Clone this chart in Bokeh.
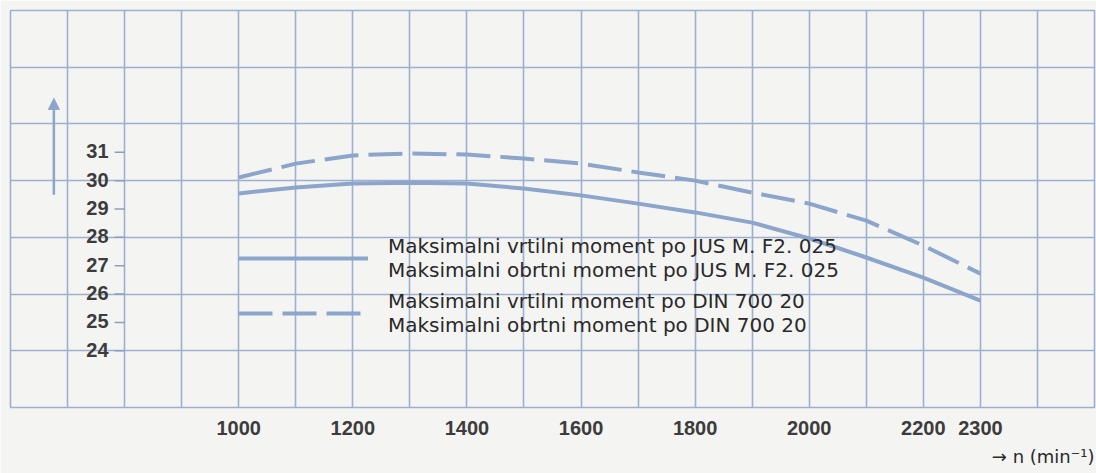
import numpy as np
from bokeh.plotting import figure
from bokeh.models import Range1d, FixedTicker, Legend, LegendItem, Title, Arrow, NormalHead
from bokeh.core.properties import value
from bokeh.embed import file_html
from bokeh.resources import INLINE

# ---- data ----
rpm = [1000, 1100, 1200, 1300, 1400, 1500, 1600, 1700, 1800, 1900, 2000, 2100, 2200, 2300]
jus_moment = [29.55, 29.76, 29.90, 29.93, 29.90, 29.72, 29.48, 29.19, 28.88, 28.52, 27.96, 27.29, 26.58, 25.77]
din_moment = [30.11, 30.60, 30.89, 30.96, 30.92, 30.78, 30.60, 30.29, 30.00, 29.58, 29.19, 28.59, 27.71, 26.72]

x_tick_values = [1000, 1200, 1400, 1600, 1800, 2000, 2200, 2300]
x_tick_labels = ["1000", "1200", "1400", "1600", "1800", "2000", "2200", "2300"]
y_tick_values = [24, 25, 26, 27, 28, 29, 30, 31]
y_tick_labels = ["24", "25", "26", "27", "28", "29", "30", "31"]

legend_jus = ["Maksimalni vrtilni moment po JUS M. F2. 025",
              "Maksimalni obrtni moment po JUS M. F2. 025"]
legend_din = ["Maksimalni vrtilni moment po DIN 700 20",
              "Maksimalni obrtni moment po DIN 700 20"]
x_axis_title = "→ n (min⁻¹)"

X_MIN, X_MAX, X_GRID_STEP = 600, 2500, 100
Y_MIN, Y_MAX, Y_GRID_STEP = 22, 36, 2
Y_AXIS_AT = 800
ARROW_X, ARROW_Y0, ARROW_Y1 = 676, 29.5, 32.9

# ---- style ----
BG = "#f4f4f2"
GRID = "#9db0cf"
CURVE = "#8ba5cb"
TEXT = "#2a2a2a"
LABEL_TEXT = "#3c3c3c"
FONT = "Liberation Sans"

p = figure(width=1096, height=473, output_backend="svg", toolbar_location=None,
           x_range=Range1d(X_MIN, X_MAX), y_range=Range1d(Y_MIN, Y_MAX),
           y_axis_location=None,
           min_border_left=10, min_border_right=2, min_border_top=10, min_border_bottom=66)

p.background_fill_color = BG
p.border_fill_color = BG
p.outline_line_color = GRID
p.outline_line_width = 1.6

p.xgrid.ticker = FixedTicker(ticks=list(range(X_MIN, X_MAX + 1, X_GRID_STEP)))
p.ygrid.ticker = FixedTicker(ticks=list(range(Y_MIN, Y_MAX + 1, Y_GRID_STEP)))
for g in (p.xgrid, p.ygrid):
    g.grid_line_color = GRID
    g.grid_line_width = 1.6
    g.grid_line_alpha = 1.0

ax = p.xaxis[0]
ax.ticker = FixedTicker(ticks=x_tick_values)
ax.major_label_overrides = {v: s for v, s in zip(x_tick_values, x_tick_labels)}
ax.axis_line_color = None
ax.major_tick_line_color = None
ax.minor_tick_line_color = None
ax.major_label_standoff = 7
ax.major_label_text_font = FONT
ax.major_label_text_font_size = "20px"
ax.major_label_text_font_style = "bold"
ax.major_label_text_color = LABEL_TEXT

# curves
r_jus = p.line(rpm, jus_moment, line_width=4, line_color=CURVE)
r_din = p.line(rpm, din_moment, line_width=4, line_color=CURVE, line_dash="34 10")

# inner y axis: ticks + labels
p.ray(x=[Y_AXIS_AT] * len(y_tick_values), y=y_tick_values, length=10, length_units="screen",
      angle=np.pi, line_color="#8e9fbb", line_width=1.5)
p.text(x=[Y_AXIS_AT] * len(y_tick_values), y=y_tick_values, text=y_tick_labels,
       x_offset=-16, y_offset=-1, text_align="right", text_baseline="middle",
       text_font=value(FONT), text_font_size="20px", text_font_style="bold",
       text_color=LABEL_TEXT)

# vertical arrow
p.add_layout(Arrow(x_start=ARROW_X, y_start=ARROW_Y0, x_end=ARROW_X, y_end=ARROW_Y1,
                   line_color=CURVE, line_width=2.5,
                   end=NormalHead(size=11, fill_color=CURVE, line_color=CURVE)))

# legend
legend = Legend(items=[LegendItem(label=value("\n".join(legend_jus)), renderers=[r_jus]),
                       LegendItem(label=value("\n".join(legend_din)), renderers=[r_din])],
                location=(228, 70), padding=0, margin=0, spacing=7,
                glyph_width=130, glyph_height=44, label_standoff=20,
                border_line_color=None, background_fill_alpha=0,
                label_text_font="DejaVu Sans", label_text_font_size="20px",
                label_text_line_height=1.1, label_text_color=TEXT)
p.add_layout(legend)

# x axis title (bottom right)
p.add_layout(Title(text=x_axis_title, align="right", text_font="DejaVu Sans",
                   text_font_size="18px", text_font_style="normal",
                   text_color=TEXT, standoff=12), "below")

open("out.html", "w").write(file_html(p, INLINE))
